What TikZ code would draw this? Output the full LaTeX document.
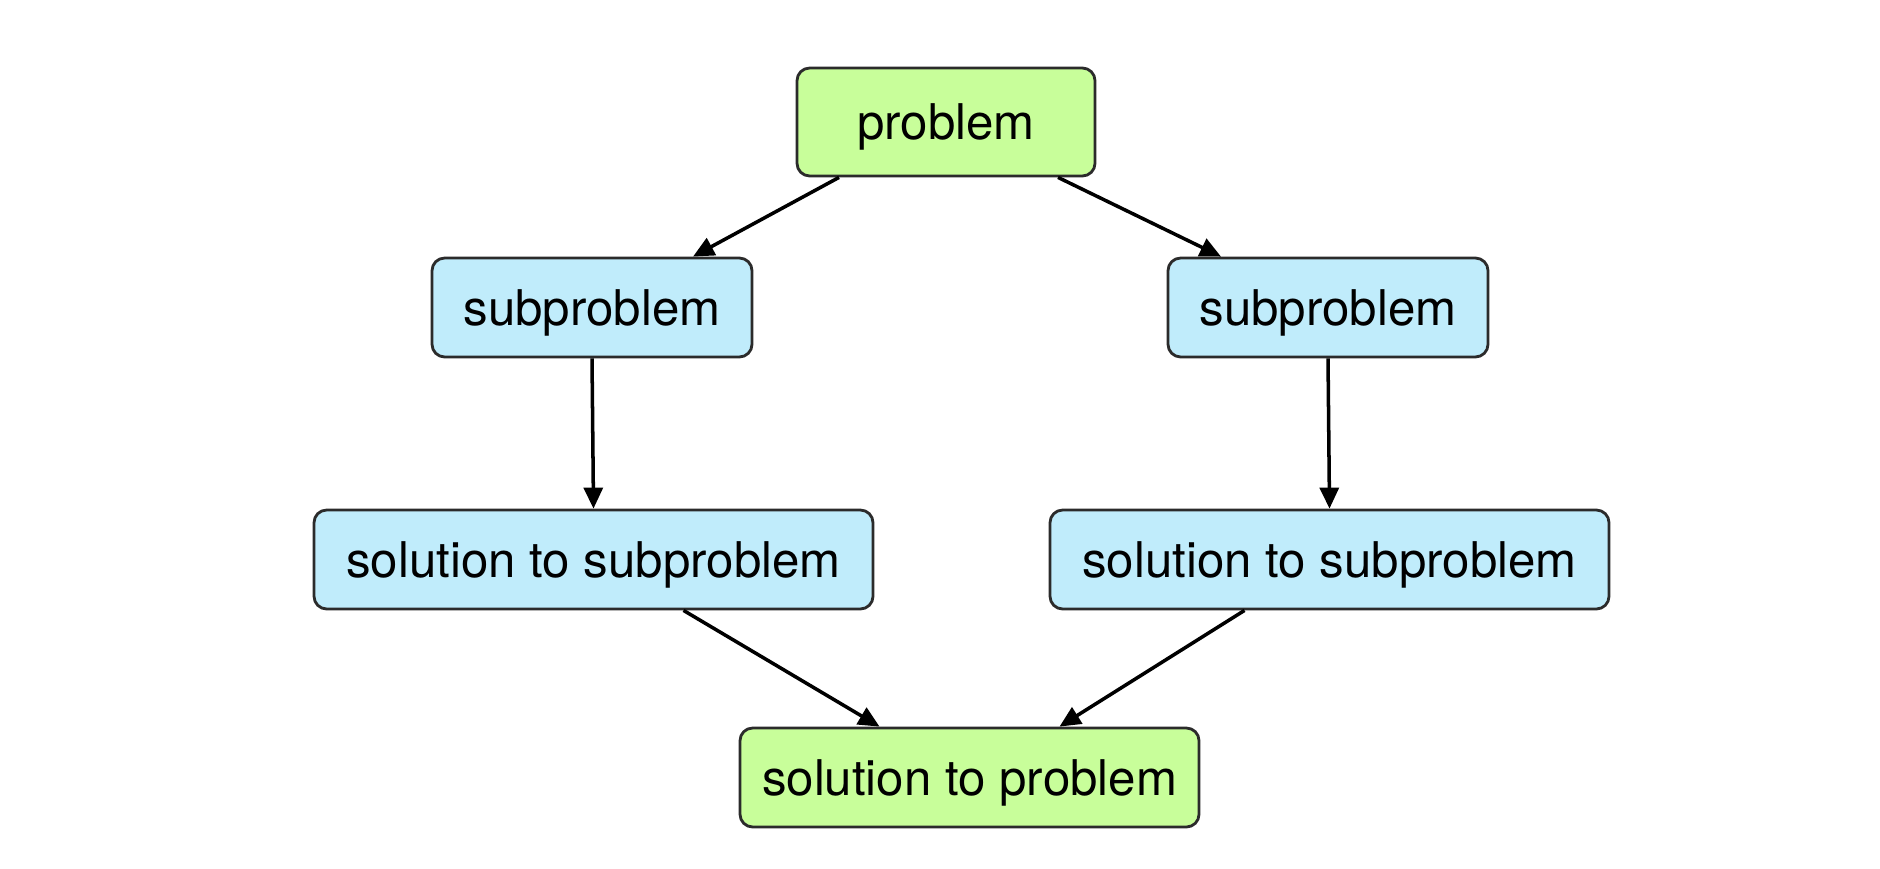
\documentclass[tikz,border=0pt]{standalone}
\usepackage{fontspec}
\setmainfont{TeX Gyre Heros}
\usetikzlibrary{arrows.meta}
\definecolor{leafgreen}{HTML}{C8FE9A}
\definecolor{skyblue}{HTML}{C0ECFB}
\definecolor{boxline}{HTML}{2B2B2B}

\tikzset{
  box/.style={draw=boxline,line width=0.8pt,rounded corners=3.6pt,inner sep=0pt,
    text depth=0pt,minimum height=0.99cm,font=\fontsize{14}{16}\selectfont},
  goal/.style={box,fill=leafgreen},
  part/.style={box,fill=skyblue},
}

\begin{document}
\begin{tikzpicture}[x=1cm,y=1cm,>={Triangle[length=2.1mm,width=1.9mm]}]
  \useasboundingbox (0,0) rectangle (18.8,8.68);
  % top and bottom
  \node[goal,minimum width=2.98cm,minimum height=1.08cm] (prob) at (9.46,7.46) {problem};
  \node[goal,minimum width=4.59cm] (sol) at (9.695,0.905) {solution to problem};
  % the two halves
  \node[part,minimum width=3.2cm] (subl) at (5.92,5.605) {subproblem};
  \node[part,minimum width=3.2cm] (subr) at (13.28,5.605) {subproblem};
  \node[part,minimum width=5.59cm] (soll) at (5.935,3.085) {solution to subproblem};
  \node[part,minimum width=5.59cm] (solr) at (13.295,3.085) {solution to subproblem};
  % split
  \draw[->,line width=1pt] ([xshift=-1.07cm]prob.south) -- ([xshift=1.01cm]subl.north);
  \draw[->,line width=1pt] ([xshift=1.12cm]prob.south) -- ([xshift=-1.07cm]subr.north);
  % solve
  \draw[->,line width=1pt] (subl.south) -- (soll.north);
  \draw[->,line width=1pt] (subr.south) -- (solr.north);
  % combine
  \draw[->,line width=1pt] ([xshift=0.9cm]soll.south) -- ([xshift=-0.9cm]sol.north);
  \draw[->,line width=1pt] ([xshift=-0.85cm]solr.south) -- ([xshift=0.9cm]sol.north);
\end{tikzpicture}
\end{document}
